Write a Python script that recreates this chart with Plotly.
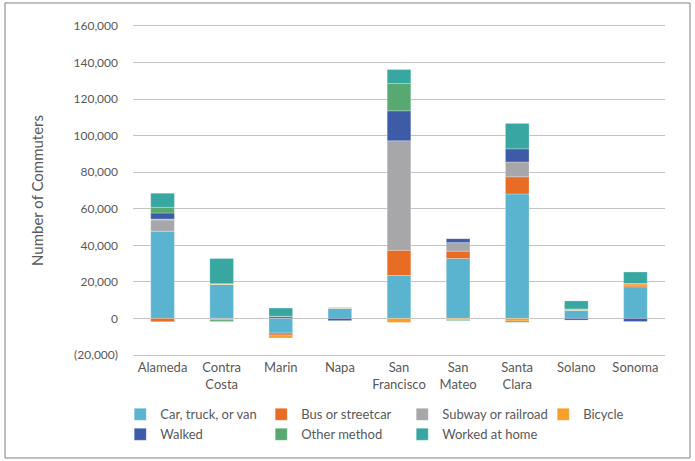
import plotly.graph_objects as go

counties = ["Alameda", "Contra<br>Costa", "Marin", "Napa", "San<br>Francisco",
            "San<br>Mateo", "Santa<br>Clara", "Solano", "Sonoma"]

# change in commuters by mode
car = [47700, 18600, -8000, 5600, 23500, 32800, 68100, 4500, 17300]
bus = [-1800, 0, -1100, 0, 13800, 4000, 9400, 0, 1000]
subway = [6200, -800, 0, 0, 59900, 4700, 8100, 0, 0]
bicycle = [500, 400, -1600, 600, -2200, -700, -1400, 700, 800]
walked = [3300, 0, 900, -1200, 16400, 2200, 7200, -900, -1700]
other = [3100, -900, 300, 0, 14900, -500, -700, 0, 0]
home = [7700, 13800, 4500, 0, 7700, 0, 13900, 4400, 6300]

series = [
    ("Car, truck, or van", car, "#5BB4CF"),
    ("Bus or streetcar", bus, "#E96C25"),
    ("Subway or railroad", subway, "#A7A7A9"),
    ("Bicycle", bicycle, "#F6A02B"),
    ("Walked", walked, "#3E5BA8"),
    ("Other method", other, "#58A872"),
    ("Worked at home", home, "#38A7A1"),
]

ytick_vals = [-20000, 0, 20000, 40000, 60000, 80000, 100000, 120000, 140000, 160000]
ytick_text = ["(20,000)", "0", "20,000", "40,000", "60,000", "80,000",
              "100,000", "120,000", "140,000", "160,000"]

grey = "#595959"
gridc = "#C4C4C4"
fig = go.Figure()
for name, vals, col in series:
    fig.add_trace(go.Bar(x=counties, y=vals, name=name, width=0.4,
                         marker=dict(color=col, line=dict(color="rgba(255,255,255,0.5)", width=0.5))))

fig.update_layout(
    barmode="relative",
    width=695, height=461,
    margin=dict(l=133, r=30, t=26, b=106, autoexpand=False),
    plot_bgcolor="white", paper_bgcolor="white",
    font=dict(family="Lato", color=grey, size=13),
    legend=dict(orientation="h", x=-0.024, xanchor="left", y=-0.135, yanchor="top",
                entrywidth=96, entrywidthmode="pixels", traceorder="normal",
                font=dict(size=13, color=grey), itemclick=False),
    shapes=[dict(type="rect", xref="paper", yref="paper",
                 x0=-0.2406, x1=1.047, y0=-0.313, y1=1.07,
                 line=dict(color="#7F7F7F", width=1), layer="below")],
)
fig.update_xaxes(range=[-0.5, 8.5], showgrid=False, showline=True, mirror=True,
                 linecolor=gridc, linewidth=1, ticks="",
                 tickfont=dict(size=13, color=grey))
fig.update_yaxes(range=[-20000, 160000], tickvals=ytick_vals, ticktext=ytick_text,
                 showgrid=True, gridcolor=gridc, gridwidth=1, zeroline=False,
                 showline=False, ticks="", ticklabelstandoff=14,
                 tickfont=dict(size=12, color=grey),
                 title=dict(text="Number of Commuters", font=dict(size=15, color=grey), standoff=26))

# drop the page's default body margin so the figure sits at the window's corner
fig.write_html("out.html", config={"displayModeBar": False},
               post_script="document.body.style.margin='0';")
